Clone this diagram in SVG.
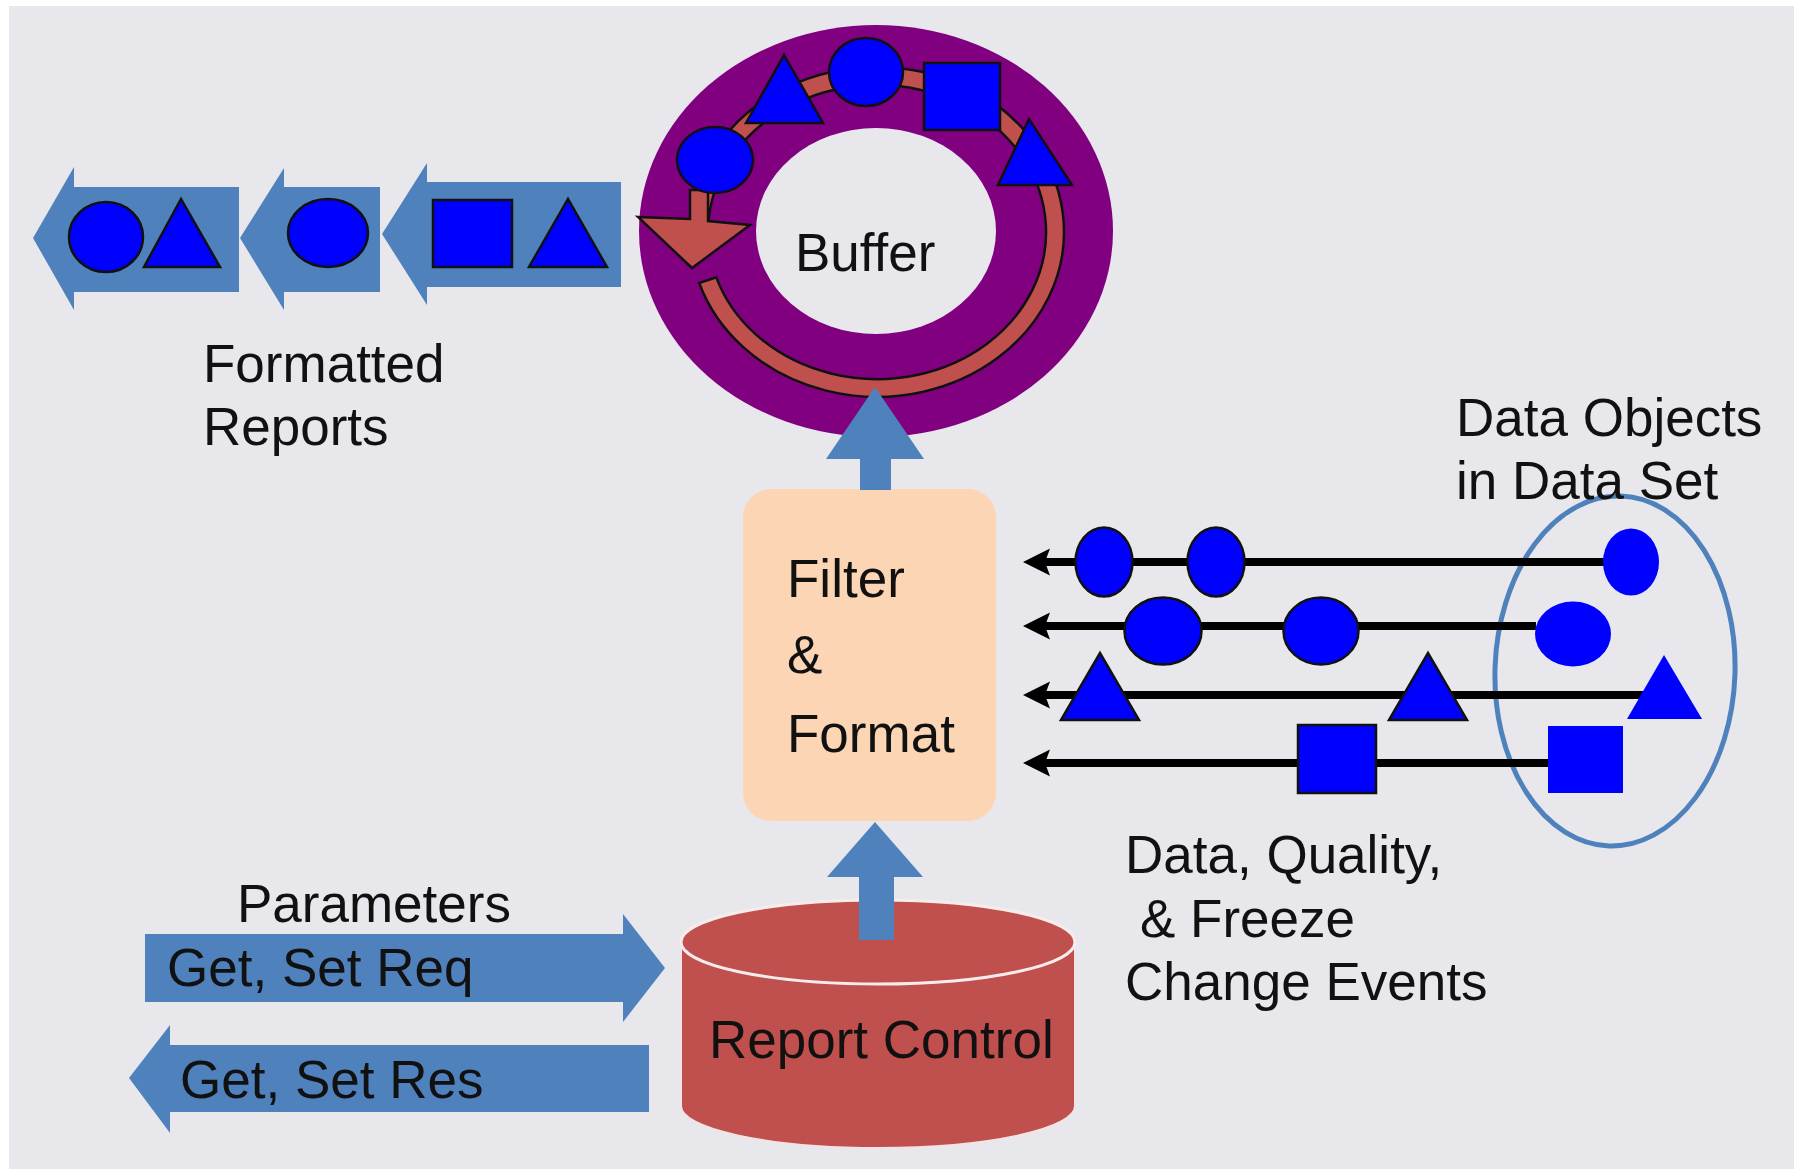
<svg xmlns="http://www.w3.org/2000/svg" width="1794" height="1169" viewBox="0 0 1794 1169">
<defs>
<style>
.t{font-family:"Liberation Sans",Arial,sans-serif;font-size:53px;fill:#111;}
.blk{fill:#4f81bd;}
.obj{fill:#0000ff;stroke:#111;stroke-width:2.5;}
.objn{fill:#0000ff;}
.dl{stroke:#000;stroke-width:8;fill:none;marker-end:url(#ah);}
</style>
<marker id="ah" markerUnits="userSpaceOnUse" markerWidth="30" markerHeight="30" viewBox="0 -15 30 30" refX="5" refY="0" orient="auto">
<path d="M27,0 L0,-13.5 L5,0 L0,13.5 Z" fill="#000"/>
</marker>
</defs>
<rect x="0" y="0" width="1794" height="1169" fill="#ffffff"/>
<rect x="9" y="6" width="1785" height="1163" fill="#e8e8ec"/>

<g id="formatted-reports">
<polygon class="blk" points="33,238 74,167 74,187 239,187 239,292 74,292 74,310"/>
<ellipse class="obj" cx="106" cy="237" rx="37" ry="35"/>
<polygon class="obj" points="144,267 220,267 181,199"/>
<polygon class="blk" points="240,238 284,168 284,187 380,187 380,292 284,292 284,310"/>
<ellipse class="obj" cx="328" cy="233" rx="40" ry="34"/>
<polygon class="blk" points="382,234 427,163 427,182 621,182 621,287 427,287 427,305"/>
<rect class="obj" x="433" y="200" width="79" height="67"/>
<polygon class="obj" points="529,267 607,267 568,199"/>
<text class="t" x="203" y="382">Formatted</text>
<text class="t" x="203" y="445">Reports</text>
</g>

<g id="buffer">
<ellipse cx="876" cy="231" rx="237" ry="206" fill="#800080"/>
<ellipse cx="876" cy="231" rx="120" ry="103" fill="#e8e8ec"/>
<path d="M699.2,283 A187 165 0 1 0 690.7,217.6 L708.7,219.2 A169 147 0 1 1 716.3,277.4 Z" fill="#c0504d" stroke="#111" stroke-width="2.5"/>
<polygon points="638,217 690,219 690,190 708,190 708,221 750,225 692,268" fill="#c0504d" stroke="#111" stroke-width="2.5"/>
<ellipse class="obj" cx="715" cy="160" rx="38" ry="33"/>
<polygon class="obj" points="746,123 823,123 784,55"/>
<ellipse class="obj" cx="866" cy="72" rx="37" ry="34"/>
<rect class="obj" x="924" y="63" width="76" height="67"/>
<polygon class="obj" points="998,185 1072,185 1029,119"/>
<text class="t" x="795" y="271">Buffer</text>
</g>

<g id="filter-format">
<rect x="743" y="489" width="253" height="332" rx="28" ry="28" fill="#fcd5b5"/>
<text class="t" x="787" y="597">Filter</text>
<text class="t" x="787" y="673">&amp;</text>
<text class="t" x="787" y="752">Format</text>
</g>

<g id="report-control">
<path d="M681,942 L681,1106 A197 42 0 0 0 1075,1106 L1075,942 Z" fill="#c0504d" stroke="#f2e4e4" stroke-width="2"/>
<ellipse cx="878" cy="942" rx="197" ry="42" fill="#c0504d" stroke="#f7ecec" stroke-width="3"/>
<text class="t" x="709" y="1058">Report Control</text>
</g>

<g id="data-set">
<ellipse cx="1615" cy="671" rx="120" ry="175" fill="none" stroke="#4f81bd" stroke-width="5" transform="rotate(2 1615 671)"/>
<text class="t" x="1456" y="436">Data Objects</text>
<text class="t" x="1456" y="499">in Data Set</text>
</g>

<g id="connectors">
<polygon class="blk" points="875,387 924,459 891,459 891,490 860,490 860,459 826,459"/>
<polygon class="blk" points="875,822 923,877 894,877 894,940 859,940 859,877 827,877"/>
<polygon class="blk" points="145,934 623,934 623,914 665,968 623,1022 623,1002 145,1002"/>
<polygon class="blk" points="129,1078 170,1025 170,1045 649,1045 649,1112 170,1112 170,1133"/>
<line class="dl" x1="1605" y1="562" x2="1045" y2="562"/>
<line class="dl" x1="1536" y1="626" x2="1045" y2="626"/>
<line class="dl" x1="1643" y1="695" x2="1045" y2="695"/>
<line class="dl" x1="1548" y1="763" x2="1045" y2="763"/>
</g>

<g id="data-objects">
<ellipse class="obj" cx="1104" cy="562" rx="28.5" ry="34.5"/>
<ellipse class="obj" cx="1216" cy="562" rx="28.5" ry="34.5"/>
<ellipse class="objn" cx="1631" cy="562" rx="28" ry="33.5"/>
<ellipse class="obj" cx="1163" cy="631" rx="38.5" ry="33.5"/>
<ellipse class="obj" cx="1321" cy="631" rx="37.5" ry="33.5"/>
<ellipse class="objn" cx="1573" cy="634" rx="38" ry="32.5"/>
<polygon class="obj" points="1061,720 1139,720 1100,653"/>
<polygon class="obj" points="1389,720 1467,720 1428,653"/>
<polygon class="objn" points="1627,719 1702,719 1664,655"/>
<rect class="obj" x="1298" y="725" width="78" height="68"/>
<rect class="objn" x="1548" y="726" width="75" height="67"/>
</g>

<g id="labels">
<text class="t" x="237" y="922">Parameters</text>
<text class="t" x="167" y="986">Get, Set Req</text>
<text class="t" x="180" y="1098">Get, Set Res</text>
<text class="t" x="1125" y="873">Data, Quality,</text>
<text class="t" x="1140" y="937">&amp; Freeze</text>
<text class="t" x="1125" y="1000">Change Events</text>
</g>
</svg>
